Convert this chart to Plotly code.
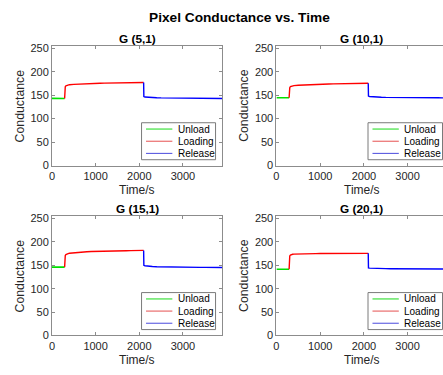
import plotly.graph_objects as go

W, H = 443, 375

panel_titles = ["G (5,1)", "G (10,1)", "G (15,1)", "G (20,1)"]
series_names = ["Unload", "Loading", "Release"]

t_unload = [0, 50, 100, 150, 200, 250, 290]
t_loading = [290, 295, 305, 320, 340, 370, 400, 500, 600, 700, 800, 900, 1000,
             1100, 1200, 1300, 1400, 1500, 1600, 1700, 1800, 1900, 2000, 2100]
t_release = [2100, 2105, 2130, 2200, 2300, 2400, 2500, 2600, 2700, 2800, 2900,
             3000, 3100, 3200, 3300, 3400, 3500, 3600, 3700, 3800, 3900]

g5_unload = [143.2, 143.0, 143.1, 142.9, 143.0, 143.1, 143.0]
g5_loading = [143, 160, 168, 170, 171, 171.8, 172.3, 173, 173.6, 174, 174.3, 174.8,
              175, 175.2, 175.5, 175.6, 175.9, 176, 176.2, 176.1, 176.5, 176.6, 176.8, 177]
g5_release = [177, 147, 146, 145.3, 144.8, 144.5, 144.2, 144, 143.8, 143.9, 143.5,
              143.6, 143.3, 143.4, 143.2, 143.3, 143.1, 143.2, 143, 143.1, 143]

g10_unload = [144.5, 144.6, 144.4, 144.5, 144.6, 144.5, 144.5]
g10_loading = [144.5, 158, 166, 168, 169, 169.8, 170.4, 171.2, 171.8, 172.3, 172.7, 173,
               173.3, 173.5, 173.8, 174, 174.1, 174.3, 174.5, 174.6, 174.8, 175, 175.1, 175.3]
g10_release = [175.3, 148, 147.2, 146.5, 146, 145.6, 145.3, 145.1, 144.9, 144.8, 144.7,
               144.6, 144.5, 144.6, 144.4, 144.5, 144.3, 144.4, 144.3, 144.2, 144.3]

g15_unload = [146.0, 146.1, 145.9, 146.0, 146.1, 146.0, 146.0]
g15_loading = [146, 162, 171, 173, 174.2, 175, 175.6, 176.8, 177.8, 178.5, 179, 179.4,
               179.8, 180, 180.3, 180.5, 180.7, 180.9, 181, 181.2, 181.3, 181.5, 181.6, 181.8]
g15_release = [181.8, 150, 149, 148, 147.4, 147, 146.7, 146.5, 146.3, 146.1, 146,
               145.9, 145.8, 145.8, 145.7, 145.6, 145.6, 145.5, 145.5, 145.4, 145.4]

g20_unload = [141.5, 141.6, 141.4, 141.5, 141.6, 141.5, 141.5]
g20_loading = [141.5, 160, 170, 172, 173, 173.5, 173.8, 174.3, 174.6, 174.8, 174.9, 175,
               175.1, 175, 175.2, 175.1, 175.3, 175.2, 175.4, 175.3, 175.5, 175.4, 175.6, 175.5]
g20_release = [175.5, 144.5, 144, 143.5, 143.2, 143, 142.8, 142.7, 142.6, 142.5, 142.4,
               142.4, 142.3, 142.2, 142.2, 142.1, 142.1, 142, 142, 141.9, 141.9]

x_ticks = [0, 1000, 2000, 3000]
y_ticks = [0, 50, 100, 150, 200, 250]

panels = [
    (g5_unload, g5_loading, g5_release),
    (g10_unload, g10_loading, g10_release),
    (g15_unload, g15_loading, g15_release),
    (g20_unload, g20_loading, g20_release),
]
colors = ["#00e000", "#ff0000", "#0000ff"]
leg_colors = ["#6ee86e", "#e86060", "#5a5ae0"]
widths = [1.6, 1.4, 1.4]

# pixel geometry (left, right, top, bottom) of each plot area
boxes = [
    (49.3, 220.7, 43.0, 166.0),
    (275.3, 443.0, 43.0, 166.0),
    (49.3, 220.7, 218.0, 340.5),
    (275.3, 443.0, 218.0, 340.5),
]
x_max = [3900, 3810, 3900, 3810]
full_right = [220.7, 447.0, 220.7, 447.0]
# legend boxes (left, right, top, bottom) in pixels
leg_boxes = [
    (139.5, 214.0, 122.0, 160.0),
    (367.5, 442.5, 122.0, 160.0),
    (139.5, 214.0, 296.5, 334.5),
    (367.5, 442.5, 296.5, 334.5),
]

fig = go.Figure()
font_family = "Liberation Sans, Arial, sans-serif"
text_col = "#262626"
axis_col = "#8c8c8c"

annotations = []
shapes = []


def px(xv):
    return xv / W


def py(yv):
    return 1 - yv / H


for i, (vals, box) in enumerate(zip(panels, boxes)):
    xa = "x" if i == 0 else f"x{i+1}"
    ya = "y" if i == 0 else f"y{i+1}"
    for j, (tt, vv) in enumerate(zip([t_unload, t_loading, t_release], vals)):
        fig.add_trace(go.Scatter(
            x=tt, y=vv, mode="lines", name=series_names[j],
            line=dict(color=colors[j], width=widths[j]),
            xaxis=xa, yaxis=ya, showlegend=False))
    l, r, t, b = box
    right_panel = i % 2 == 1
    ax_common = dict(
        showgrid=False, zeroline=False, showline=True, linecolor=axis_col, linewidth=1,
        ticks="inside", ticklen=3, tickcolor=axis_col,
        tickfont=dict(size=11, color=text_col, family=font_family),
    )
    fig.update_layout({
        ("xaxis" if i == 0 else f"xaxis{i+1}"): dict(
            domain=[l / W, r / W], range=[0, x_max[i]], anchor=ya,
            tickvals=x_ticks, mirror="ticks", **ax_common),
        ("yaxis" if i == 0 else f"yaxis{i+1}"): dict(
            domain=[1 - b / H, 1 - t / H], range=[0, 255], anchor=xa,
            tickvals=y_ticks, mirror=(False if right_panel else "ticks"), **ax_common),
    })
    cx = (l + full_right[i]) / 2
    annotations.append(dict(text=f"<b>{panel_titles[i]}</b>", x=px(cx), y=py(t - 7.3),
                            xref="paper", yref="paper", showarrow=False,
                            font=dict(size=11.8, color="black", family=font_family),
                            xanchor="center", yanchor="middle"))
    annotations.append(dict(text="Time/s", x=px(cx), y=py(b + 25.5),
                            xref="paper", yref="paper", showarrow=False,
                            font=dict(size=12, color=text_col, family=font_family),
                            xanchor="center", yanchor="middle"))
    annotations.append(dict(text="Conductance", x=px(l - 32.5), y=py((t + b) / 2),
                            xref="paper", yref="paper", showarrow=False, textangle=-90,
                            font=dict(size=12.3, color=text_col, family=font_family),
                            xanchor="center", yanchor="middle"))
    # legend box drawn by hand (one legend per panel, MATLAB style)
    ll, lr, lt, lb = leg_boxes[i]
    shapes.append(dict(type="rect", xref="paper", yref="paper",
                       x0=px(ll), x1=px(lr), y0=py(lb), y1=py(lt),
                       line=dict(color="#7a7a7a", width=1), fillcolor="white", layer="above"))
    row_h = (lb - lt - 13) / 2
    for j in range(3):
        ry = lt + 6.5 + j * row_h
        shapes.append(dict(type="line", xref="paper", yref="paper",
                           x0=px(ll + 4.5), x1=px(ll + 31), y0=py(ry), y1=py(ry),
                           line=dict(color=leg_colors[j], width=1.6 if j == 0 else 1.1),
                           layer="above"))
        annotations.append(dict(text=series_names[j], x=px(ll + 34.5), y=py(ry),
                                xref="paper", yref="paper", showarrow=False,
                                font=dict(size=10, color="black", family=font_family),
                                xanchor="left", yanchor="middle"))

annotations.append(dict(text="<b>Pixel Conductance vs. Time</b>", x=px(238.5), y=py(14),
                        xref="paper", yref="paper", showarrow=False,
                        font=dict(size=13.7, color="black", family=font_family),
                        xanchor="center", yanchor="middle"))

fig.update_layout(
    width=W, height=H, margin=dict(l=0, r=0, t=0, b=0),
    paper_bgcolor="white", plot_bgcolor="white",
    annotations=annotations, shapes=shapes,
    font=dict(family=font_family),
)

fig.write_html(
    "out.html",
    config={"displayModeBar": False},
    post_script="document.body.style.margin='0';document.body.style.overflow='hidden';",
)
